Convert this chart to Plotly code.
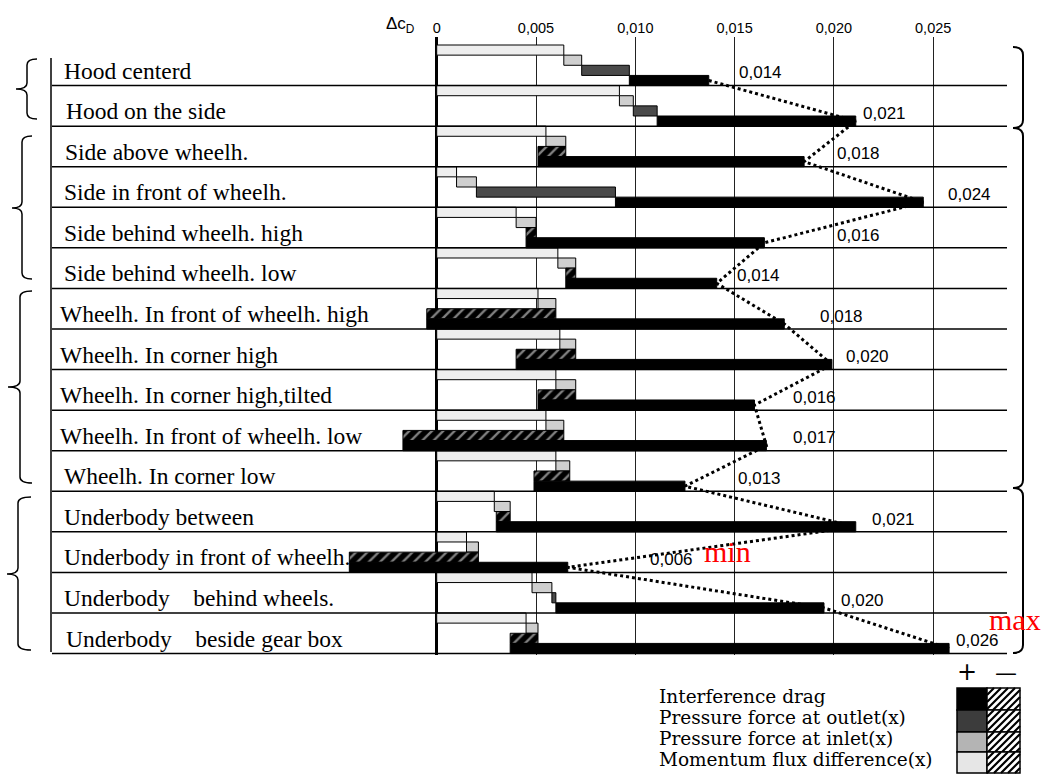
import plotly.graph_objects as go

# ---------------- data ----------------
categories = [
    "Hood centerd", "Hood on the side",
    "Side above wheelh.", "Side in front of wheelh.",
    "Side behind wheelh. high", "Side behind wheelh. low",
    "Wheelh. In front of wheelh. high", "Wheelh. In corner high",
    "Wheelh. In corner high,tilted", "Wheelh. In front of wheelh. low",
    "Wheelh. In corner low",
    "Underbody between", "Underbody in front of wheelh.",
    "Underbody\u00a0\u00a0\u00a0\u00a0behind wheels.",
    "Underbody\u00a0\u00a0\u00a0\u00a0beside gear box",
]
momentum = [0.0064, 0.0092, 0.0055, 0.0010, 0.0040, 0.0061, 0.0051, 0.0062,
            0.0060, 0.0055, 0.0060, 0.0029, 0.0015, 0.0048, 0.0045]
inlet = [0.0009, 0.0007, 0.0010, 0.0010, 0.0010, 0.0009, 0.0009, 0.0008,
         0.0010, 0.0009, 0.0007, 0.0008, 0.0006, 0.0010, 0.0006]
outlet = [0.0024, 0.0012, -0.0014, 0.0070, -0.0005, -0.0005, -0.0065, -0.0030,
          -0.0019, -0.0081, -0.0018, -0.0007, -0.0065, 0.0002, -0.0014]
interference = [0.0040, 0.0100, 0.0134, 0.0155, 0.0120, 0.0076, 0.0180, 0.0159,
                0.0109, 0.0183, 0.0076, 0.0181, 0.0110, 0.0135, 0.0221]
total_labels = ["0,014", "0,021", "0,018", "0,024", "0,016", "0,014", "0,018", "0,020",
                "0,016", "0,017", "0,013", "0,021", "0,006", "0,020", "0,026"]
tick_vals = [0, 0.005, 0.010, 0.015, 0.020, 0.025]
tick_text = ["0", "0,005", "0,010", "0,015", "0,020", "0,025"]
legend_items = ["Interference drag", "Pressure force at outlet(x)",
                "Pressure force at inlet(x)", "Momentum flux difference(x)"]

# ---------------- layout helpers ----------------
W, H = 1049, 780
MT, MB = 37, 125
PH = H - MT - MB
X0PX, PXPU = 436.7, 19860.0          # x pixel of 0 and pixels per unit


def pxx(px):
    return px / W


def pxy(py):
    return (H - MB - py) / PH


n = len(categories)
fig = go.Figure()

components = [
    (momentum, "#eeeeee"),
    (inlet, "#cfcfcf"),
    (outlet, "#4a4a4a"),
    (interference, "#000000"),
]
offsets = [-0.375, -0.125, 0.125, 0.375]
running = [0.0] * n
for (vals, col), off in zip(components, offsets):
    py_, px_, pb_ = [], [], []
    ny_, nx_, nb_ = [], [], []
    for i, v in enumerate(vals):
        if v >= 0:
            py_.append(i + off); px_.append(v); pb_.append(running[i])
        else:
            ny_.append(i + off); nx_.append(v); nb_.append(running[i])
        running[i] += v
    if px_:
        fig.add_trace(go.Bar(
            y=py_, x=px_, base=pb_, orientation="h", width=0.25,
            marker=dict(color=col, line=dict(color="black", width=1)),
            hoverinfo="skip"))
    if nx_:
        fig.add_trace(go.Bar(
            y=ny_, x=nx_, base=nb_, orientation="h", width=0.25,
            marker=dict(color="black", line=dict(color="black", width=1),
                        pattern=dict(shape="/", fgcolor="white", fillmode="overlay",
                                     size=8, solidity=0.3)),
            hoverinfo="skip"))

totals = running[:]

# dotted connection of totals
fig.add_trace(go.Scatter(
    x=totals, y=[i + 0.375 for i in range(n)], mode="lines",
    line=dict(color="black", width=3, dash="3px,3px"), hoverinfo="skip"))

annotations = []
shapes = []

# value labels
label_dx = [29, 6, 32, 24, 72, 19, 35, 13, 38, 26, 52, 15, 81, 16, 6]
num_font = "Liberation Sans, Arial, sans-serif"
for i in range(n):
    annotations.append(dict(
        x=totals[i], xref="x", y=i + 0.185, yref="y", text=total_labels[i],
        xanchor="left", yanchor="middle", xshift=label_dx[i] - 1, showarrow=False,
        font=dict(family=num_font, size=17, color="black")))

# row separator lines
for i in range(n):
    shapes.append(dict(type="line", xref="paper", yref="y",
                       x0=pxx(52), x1=pxx(1007), y0=i + 0.5, y1=i + 0.5,
                       line=dict(color="black", width=1.5)))
# table left border
shapes.append(dict(type="line", xref="paper", yref="paper",
                   x0=pxx(51), x1=pxx(51), y0=pxy(58), y1=pxy(652),
                   line=dict(color="black", width=1.5)))

# category labels
label_left = [62, 64, 63, 62, 62, 62, 58, 58, 58, 58, 62, 62, 62, 62, 64]
for i, c in enumerate(categories):
    annotations.append(dict(
        x=pxx(label_left[i]), xref="paper", y=i + 0.5, yref="y", text=c,
        xanchor="left", yanchor="bottom", yshift=0, showarrow=False,
        font=dict(family="Liberation Serif, Times New Roman, serif", size=23.5,
                  color="black")))


def brace_left(top, mid, bot, vx, hx, tipx):
    p = (f"M {pxx(hx)},{pxy(top)} Q {pxx(vx)},{pxy(top)} {pxx(vx)},{pxy(top + 6)} "
         f"L {pxx(vx)},{pxy(mid - 6)} Q {pxx(vx)},{pxy(mid)} {pxx(tipx)},{pxy(mid)} "
         f"Q {pxx(vx)},{pxy(mid)} {pxx(vx)},{pxy(mid + 6)} "
         f"L {pxx(vx)},{pxy(bot - 6)} Q {pxx(vx)},{pxy(bot)} {pxx(hx)},{pxy(bot)}")
    return dict(type="path", xref="paper", yref="paper", path=p,
                line=dict(color="black", width=1.5))


def brace_right(top, bot, vx, hx):
    p = (f"M {pxx(hx)},{pxy(top)} Q {pxx(vx)},{pxy(top)} {pxx(vx)},{pxy(top + 8)} "
         f"L {pxx(vx)},{pxy(bot - 8)} Q {pxx(vx)},{pxy(bot)} {pxx(hx)},{pxy(bot)}")
    return dict(type="path", xref="paper", yref="paper", path=p,
                line=dict(color="black", width=2))


shapes.append(brace_left(59, 89, 119, 27, 37, 16))
shapes.append(brace_left(136, 208, 279, 22, 32, 12))
shapes.append(brace_left(291, 387, 483, 20, 32, 8))
shapes.append(brace_left(497, 574, 650, 18, 31, 7))
shapes.append(brace_right(47, 128, 1023, 1013))
shapes.append(brace_right(128, 488, 1023, 1013))
shapes.append(brace_right(488, 653, 1023, 1013))

# axis symbol
annotations.append(dict(x=pxx(400), xref="paper", y=pxy(25), yref="paper",
                        text="\u0394c<sub>D</sub>", showarrow=False,
                        xanchor="center", yanchor="middle",
                        font=dict(family=num_font, size=17, color="black")))

# min / max
annotations.append(dict(x=pxx(727), xref="paper", y=pxy(551), yref="paper", text="min",
                        showarrow=False, xanchor="center", yanchor="middle",
                        font=dict(family="Liberation Serif, serif", size=30, color="red")))
annotations.append(dict(x=pxx(1015), xref="paper", y=pxy(619), yref="paper", text="max",
                        showarrow=False, xanchor="center", yanchor="middle",
                        font=dict(family="Liberation Serif, serif", size=30, color="red")))

# legend
annotations.append(dict(x=pxx(967), xref="paper", y=pxy(672), yref="paper", text="+",
                        showarrow=False, xanchor="center", yanchor="middle",
                        font=dict(family="DejaVu Sans", size=24, color="black")))
annotations.append(dict(x=pxx(1006), xref="paper", y=pxy(672), yref="paper", text="\u2014",
                        showarrow=False, xanchor="center", yanchor="middle",
                        font=dict(family="DejaVu Sans", size=22, color="black")))
row_tops = [688, 710, 732, 752]
row_bots = [710, 732, 752, 773]
legend_text_y = [696, 717, 738, 759]
plus_cols = ["#000000", "#3c3c3c", "#b4b4b4", "#e6e6e6"]
for k, txt in enumerate(legend_items):
    annotations.append(dict(x=pxx(657), xref="paper",
                            y=pxy(legend_text_y[k]), yref="paper",
                            text=txt, showarrow=False, xanchor="left", yanchor="middle",
                            font=dict(family="DejaVu Serif, serif", size=18.5, color="black")))
    t, b = row_tops[k], row_bots[k]
    shapes.append(dict(type="rect", xref="paper", yref="paper",
                       x0=pxx(957), x1=pxx(987), y0=pxy(b), y1=pxy(t),
                       fillcolor=plus_cols[k], line=dict(color="black", width=1.5)))
    shapes.append(dict(type="rect", xref="paper", yref="paper",
                       x0=pxx(987), x1=pxx(1020), y0=pxy(b), y1=pxy(t),
                       fillcolor="white", line=dict(color="black", width=1.5)))
    # hatch lines "/"
    x0, x1, y0, y1 = 987, 1020, t, b
    segs = []
    c = x0 + y0
    while c < x1 + y1:
        xa = max(x0, c - y1)
        xb = min(x1, c - y0)
        if xb > xa:
            segs.append(f"M {pxx(xa)},{pxy(c - xa)} L {pxx(xb)},{pxy(c - xb)}")
        c += 7
    shapes.append(dict(type="path", xref="paper", yref="paper", path=" ".join(segs),
                       line=dict(color="black", width=2.2)))

fig.update_layout(
    width=W, height=H,
    margin=dict(l=0, r=0, t=MT, b=MB, pad=0),
    paper_bgcolor="white", plot_bgcolor="white",
    showlegend=False, barmode="overlay",
    xaxis=dict(range=[(0 - X0PX) / PXPU, (W - X0PX) / PXPU], side="top",
               tickvals=tick_vals, ticktext=tick_text, ticks="",
               showgrid=True, gridcolor="#222222", gridwidth=1,
               zeroline=True, zerolinecolor="black", zerolinewidth=3,
               showline=False, ticklabelstandoff=0,
               tickfont=dict(family=num_font, size=14.5, color="black"),
               fixedrange=True),
    yaxis=dict(range=[(H - MB - 45) / 40.57 - 0.5, (MT - 45) / 40.57 - 0.5],
               visible=False, showgrid=False, zeroline=False, fixedrange=True),
    annotations=annotations, shapes=shapes,
)

fig.write_html("out.html")
